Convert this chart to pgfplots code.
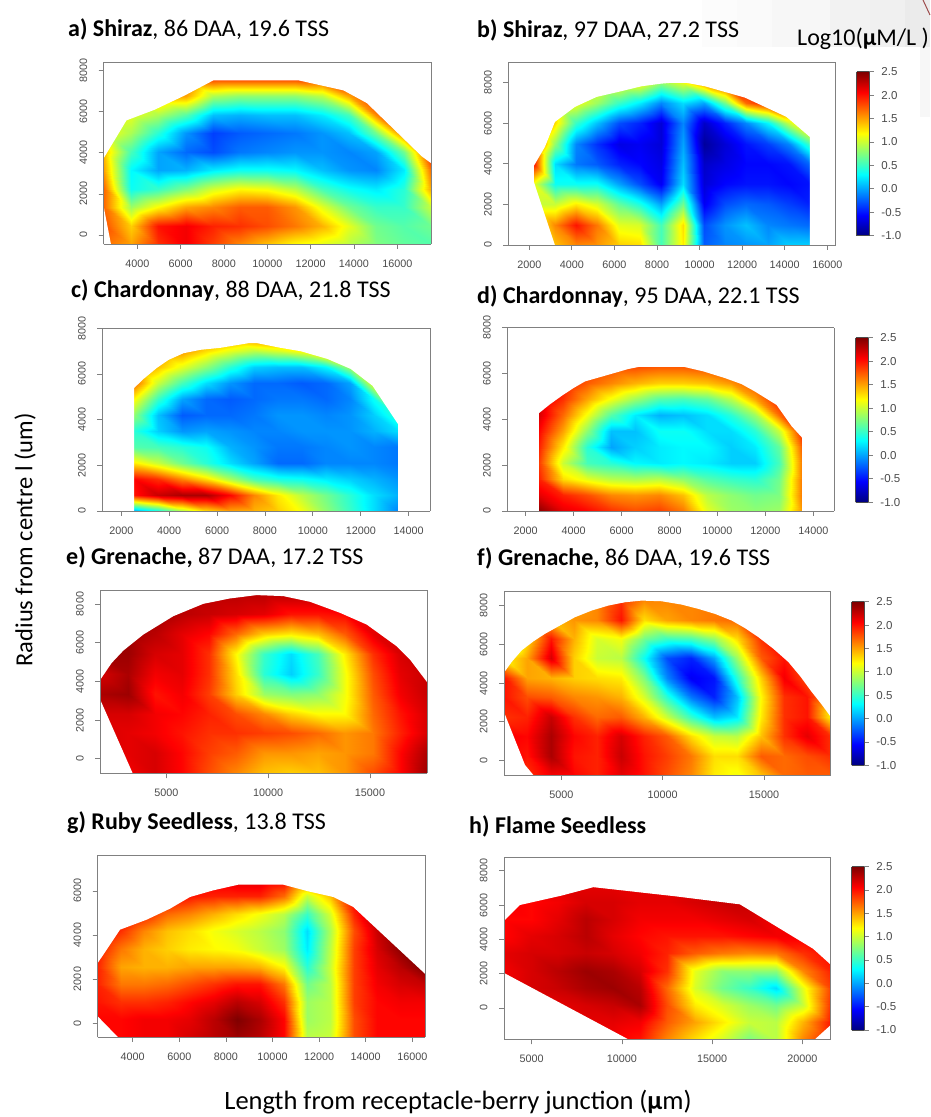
\documentclass[border=0pt]{standalone}
\usepackage{fontspec}
\usepackage{pgfplots}
\pgfplotsset{compat=1.18}
\setmainfont{Carlito}
\newfontfamily\lbs{Liberation Sans}
\definecolor{txtg}{HTML}{4A4A4A}
\definecolor{frm}{HTML}{808080}
\pgfplotsset{
 colormap={rjet}{rgb255(0cm)=(0,0,127) rgb255(1cm)=(0,0,255) rgb255(2cm)=(0,127,255) rgb255(3cm)=(0,255,255) rgb255(4cm)=(127,255,127) rgb255(5cm)=(255,255,0) rgb255(6cm)=(255,127,0) rgb255(7cm)=(255,0,0) rgb255(8cm)=(127,0,0)},
 panel/.style={
  scale only axis, anchor=south west, view={0}{90},
  colormap name=rjet, point meta min=-1, point meta max=2.5,
  zmin=-2, zmax=4, ztick=\empty, axis on top,
  xtick pos=bottom, ytick pos=left, tick align=outside,
  major tick length=5pt, scaled ticks=false,
  axis line style={frm,line width=0.9pt}, tick style={frm,line width=0.8pt},
  /pgf/number format/assume math mode=true, /pgf/number format/1000 sep={},
  xticklabel style={font=\lbs\fontsize{10.8}{12}\selectfont,text=txtg,yshift=-7pt},
  yticklabel style={font=\lbs\fontsize{10.8}{12}\selectfont,text=txtg,rotate=90,anchor=south,yshift=8pt},
 },
 cbar/.style={
  scale only axis, anchor=south west, view={0}{90},
  colormap name=rjet, point meta min=-1, point meta max=2.5,
  xmin=0,xmax=1,ymin=-1,ymax=2.5,zmin=-2,zmax=4,ztick=\empty,xtick=\empty,
  ytick={-1,-0.5,0,0.5,1,1.5,2,2.5},
  yticklabels={-1.0,-0.5,0.0,0.5,1.0,1.5,2.0,2.5},
  ytick pos=right, yticklabel pos=right, tick align=outside, major tick length=5pt,
  axis on top, axis line style={black!70,line width=0.5pt}, tick style={frm,line width=0.8pt},
  yticklabel style={font=\lbs\fontsize{11.5}{12}\selectfont,text=txtg,xshift=4pt},
 },
 mk/.style={fill=white,draw=none,no marks,forget plot},
}
% x0, dx, N, y0, dy (in thousands), values bottom row first
\newcommand\buildgrid[6]{\gdef\coords{}%
 \foreach \v [count=\k from 0] in {#6}{%
  \pgfmathtruncatemacro\ci{mod(\k,#3)}%
  \pgfmathtruncatemacro\cj{div(\k,#3)}%
  \pgfmathsetmacro\X{#1+#2*\ci}\pgfmathsetmacro\Y{#4+#5*\cj}%
  \xdef\coords{\coords (\X e3,\Y e3,\v)}%
 }}
\newcommand\heatb[2]{\addplot3[surf,shader=interp,mesh/cols=#2,point meta=z,forget plot] coordinates {#1};}
\newcommand\heat[1]{\expandafter\heatb\expandafter{\coords}{#1}}
\newcommand\colbar[3]{\begin{axis}[cbar,at={(#1pt,#2pt)},width=12.2pt,height=#3pt]
\addplot3[surf,shader=interp,mesh/cols=2,point meta=z] coordinates {(0,-1,-1) (1,-1,-1) (0,2.5,2.5) (1,2.5,2.5)};
\end{axis}}
\newcommand\ttl[3]{\node[anchor=base west,inner sep=0pt,font=\fontsize{24}{28}\selectfont] at (#1pt,#2pt) {#3};}
\begin{document}
\begin{tikzpicture}
\path[use as bounding box] (0pt,0pt) rectangle (930pt,1117pt);
% faint background tint
\fill[black!1] (702pt,1070pt) rectangle (737pt,1117pt);
\fill[black!2] (737pt,1070pt) rectangle (772pt,1117pt);
\fill[black!3] (772pt,1070pt) rectangle (830pt,1117pt);
\fill[black!5] (830pt,1070pt) rectangle (870pt,1117pt);
\fill[black!6] (870pt,1070pt) rectangle (905pt,1117pt);
\fill[black!8] (905pt,1070pt) rectangle (930pt,1117pt);
\fill[black!3] (920pt,1000pt) rectangle (930pt,1070pt);
\draw[red!45!black!70,line width=1pt] (923pt,1117pt) -- (930pt,1102pt);
% a
\buildgrid{2.45}{1.25875}{13}{-0.438}{0.9}{
1.7,1.5,1.9,2.1,1.85,1.6,1.4,1.2,1.1,.95,.75,.65,.6,
1.8,1.35,2,2.1,1.95,1.9,1.8,1.65,1.45,1.1,.7,.6,.7,
1.7,.85,1.2,1.5,1.6,1.75,1.75,1.55,1.1,.7,.5,.5,1,
1.7,.35,.5,.75,1.05,1.2,1.15,.95,.55,.35,.25,.45,1.5,
1.5,.3,0,.05,.25,.35,.35,.3,.1,-.05,-.1,.25,1.7,
1.4,.55,0,-.2,-.3,-.15,-.1,-.05,-.05,-.1,0,.7,2,
1.2,.9,.45,-.05,-.35,-.25,-.2,-.15,-.05,.1,.7,1.7,2.2,
1.2,1.1,.9,.6,.1,.05,.1,.1,.25,.55,1.6,2,2.2,
1.3,1.3,1.5,1.5,.9,.8,.8,.8,.95,1.5,2,2,2,
1.5,1.6,1.7,1.8,1.9,1.9,1.9,1.9,1.9,2,2,2,2}
\begin{axis}[panel,at={(103.7pt,873pt)},width=327.3pt,height=182pt,xmin=2450,xmax=17555,ymin=-438,ymax=8424,
 xtick={4000,6000,...,16000},ytick={0,2000,...,8000}]
\heat{13}
\addplot3[mk] coordinates {(2400,8500,3) (2400,3740,3) (2450,3740,3) (3500,5580,3) (4800,6100,3) (6200,6800,3) (7510,7530,3) (11440,7530,3) (13520,7040,3) (14600,6420,3) (17140,3820,3) (17555,3500,3) (17600,3500,3) (17600,8500,3)};
\addplot3[mk] coordinates {(2400,-500,3) (2400,1380,3) (2450,1380,3) (2783,-438,3) (2783,-500,3)};
\end{axis}
% b
\buildgrid{2.2}{1}{14}{0}{1}{
1,1.4,1.6,1.55,1.35,1.3,.55,1.25,-.25,-.1,-.05,0,.15,.15,
1.1,1.6,2,1.65,1.1,1.05,.55,1.3,-.3,-.05,.1,-.1,-.15,-.2,
1,1,1.25,1.05,.65,.4,0,.7,-.6,-.3,-.2,-.25,-.35,-.45,
1.1,.35,.35,.35,0,-.3,-.6,.2,-.7,-.55,-.5,-.5,-.55,-.5,
2,.2,-.15,-.25,-.45,-.55,-.65,.1,-.75,-.65,-.55,-.55,-.5,-.2,
2,.8,-.1,-.4,-.65,-.6,-.7,0,-.9,-.7,-.5,-.35,-.1,.55,
2,1.3,.5,.1,-.3,-.45,-.7,-.1,-.75,-.45,-.1,.3,1,1.6,
1.5,1.3,1.15,.85,.5,.25,-.1,.2,0,.7,1.7,2,2,2,
1.2,1.2,1.2,1.2,1.2,1.2,.8,1.1,1.6,2,2.2,2,2,2}
\begin{axis}[panel,at={(508.3pt,872pt)},width=327.4pt,height=183pt,xmin=1014,xmax=16395,ymin=0,ymax=9020,
 xtick={2000,4000,...,16000},ytick={0,2000,...,8000}]
\heat{14}
\addplot3[mk] coordinates {(1000,9100,3) (1000,-50,3) (3200,-50,3) (3200,0,3) (2188,3198,3) (2188,3854,3) (2735,4838,3) (3205,6068,3) (4144,6806,3) (5161,7298,3) (6179,7544,3) (7274,7823,3) (8213,7954,3) (9152,8036,3) (10248,7823,3) (12126,7265,3) (14082,6314,3) (15177,5330,3) (15177,-50,3) (16500,-50,3) (16500,9100,3)};
\end{axis}
\colbar{856.7}{881.3}{164}
% c
\buildgrid{2.55}{1}{12}{0}{0.7}{
0,.35,.9,1.3,1.5,1.45,1.35,1.15,.8,.5,.2,-.1,
2,2.25,2.35,2.35,2.05,1.6,1.25,.95,.7,.45,.2,.05,
2.05,1.9,1.6,1.3,.9,.55,.4,.35,.25,.15,.05,-.05,
1.25,1,.7,.45,.2,0,-.2,-.2,-.1,-.1,-.1,-.15,
.6,.55,.45,.35,.05,-.05,-.15,-.15,-.1,-.05,-.1,-.15,
.45,.15,-.05,0,-.05,-.1,-.1,-.05,-.05,-.05,.05,.2,
.8,.1,-.25,-.2,-.2,-.15,-.05,-.05,-.1,-.05,.15,.5,
1.2,.5,0,-.2,-.25,-.2,-.15,-.15,-.2,-.1,.35,1.5,
1.7,1,.55,.2,-.05,-.2,-.2,-.25,-.2,0,1.2,2.2,
1.7,1.4,1.1,.8,.45,.15,.1,.1,.3,.9,2,2,
1.7,1.6,1.55,1.3,1.1,.95,1.05,1.2,1.6,2,2,2,
1.8,1.8,1.8,1.8,1.7,1.8,1.8,1.9,2,2,2,2}
\begin{axis}[panel,at={(102.3pt,606pt)},width=327.7pt,height=182.7pt,xmin=1207,xmax=14890,ymin=0,ymax=8000,
 xtick={2000,4000,...,14000},ytick={0,2000,...,8000}]
\heat{12}
\addplot3[mk] coordinates {(1200,8100,3) (1200,-50,3) (2531,-50,3) (2531,5380,3) (2922,5777,3) (3481,6262,3) (3970,6615,3) (4598,6909,3) (5297,7056,3) (6135,7144,3) (7323,7350,3) (7672,7350,3) (8650,7144,3) (9488,6997,3) (10606,6659,3) (11583,6218,3) (12491,5483,3) (13050,4601,3) (13609,3719,3) (13609,-50,3) (15000,-50,3) (15000,8100,3)};
\end{axis}
% d
\buildgrid{2.55}{1}{12}{0}{0.7}{
2.45,2.15,2.05,1.9,1.8,1.85,1.65,1.1,.85,.8,.85,1.6,
2.15,1.95,1.8,1.6,1.55,1.6,1.4,.95,.8,.7,.75,1.7,
1.95,1.3,1.1,.95,.9,.95,.8,.6,.5,.45,.7,1.7,
1.85,1,.55,.45,.3,.25,.3,.25,.15,.15,.55,1.7,
1.95,1.25,.45,0,.15,.25,.3,.3,.15,.25,.65,1.8,
2.05,1.5,.8,.1,.1,.35,.35,.2,.2,.45,1,2,
2.2,1.7,1.15,.6,.25,.05,.1,.2,.45,.85,1.7,2.1,
2.2,1.9,1.5,1.15,.85,.6,.55,.65,.95,1.5,2,2.1,
2.2,2,1.75,1.6,1.45,1.35,1.35,1.4,1.55,1.8,2,2,
2,2,1.9,1.8,1.8,1.75,1.75,1.8,1.9,2,2,2}
\begin{axis}[panel,at={(507.3pt,606pt)},width=327pt,height=183.3pt,xmin=1232,xmax=14876,ymin=0,ymax=8000,
 xtick={2000,4000,...,14000},ytick={0,2000,...,8000}]
\heat{12}
\addplot3[mk] coordinates {(1200,8100,3) (1200,-50,3) (2528,-50,3) (2528,4249,3) (3015,4659,3) (3501,5025,3) (3988,5362,3) (4474,5655,3) (5308,5904,3) (6281,6197,3) (6837,6314,3) (8505,6314,3) (9409,6094,3) (10312,5801,3) (11007,5538,3) (11563,5215,3) (12467,4629,3) (13092,3706,3) (13537,3194,3) (13537,-50,3) (15000,-50,3) (15000,8100,3)};
\end{axis}
\colbar{855.7}{614.7}{164.6}
% e
\buildgrid{1.76}{1.3365}{13}{-0.755}{1.03}{
2.1,2.1,2.2,2.05,1.8,1.6,1.4,1.35,1.4,1.55,1.8,2.05,2.4,
2.15,2.15,2.2,2.05,1.85,1.75,1.55,1.55,1.5,1.55,1.65,2.05,2.35,
2.2,2.15,2.1,2,1.9,1.9,1.85,1.8,1.7,1.55,1.65,1.95,2.2,
2.2,2.2,2.1,2.05,1.95,1.8,1.6,1.35,1.2,1.2,1.7,2,2.2,
2.35,2.4,2,2.1,1.85,1.35,.85,.75,.8,1.15,1.75,2.1,2.25,
2.2,2.35,2.1,2.15,1.9,1.3,.45,.15,.5,1.15,1.8,2.15,2.25,
2.4,2.4,2.2,2.15,1.9,1.2,.5,.2,.55,1.25,1.9,2.2,2.2,
2.4,2.4,2.3,2.15,2.05,1.7,1.35,1.25,1.4,1.75,2.15,2.2,2.1,
2.4,2.4,2.4,2.3,2.25,2.2,2.15,2,2,2.05,2.1,2.1,2,
2.3,2.3,2.3,2.3,2.3,2.3,2.3,2.3,2.3,2.3,2.3,2.3,2.3}
\begin{axis}[panel,at={(100.3pt,343.7pt)},width=326.7pt,height=183.3pt,xmin=1760,xmax=17798,ymin=-755,ymax=8724,
 xtick={5000,10000,15000},ytick={0,2000,...,8000}]
\heat{13}
\addplot3[mk] coordinates {(1700,8800,3) (1700,4083,3) (1759,4083,3) (2315,4948,3) (2888,5588,3) (3870,6418,3) (5344,7370,3) (6817,8010,3) (8127,8287,3) (9436,8460,3) (10746,8408,3) (12056,8114,3) (13529,7543,3) (14838,6937,3) (16312,5813,3) (16967,5121,3) (17801,3962,3) (17850,3962,3) (17850,8800,3)};
\addplot3[mk] coordinates {(1700,-800,3) (1700,3045,3) (1760,3045,3) (3350,-755,3) (3350,-800,3)};
\end{axis}
% f
\buildgrid{2.173}{1.1512}{15}{-0.736}{1}{
2.2,1.9,2.1,2.05,1.95,2.15,2,1.8,1.6,1.25,1.15,1.4,1.7,1.75,1.75,
2.2,2,2.35,2,1.95,2.25,2,1.85,1.65,1.3,1.3,1.75,1.7,1.8,1.9,
2.1,2.05,2.35,2.05,1.95,2.2,1.95,1.75,1.3,1,.95,1.4,1.9,2.15,1.9,
1.9,1.95,2.25,1.9,1.7,1.75,1.45,1,.5,.1,.25,1.25,1.9,2,1.2,
2,1.8,1.75,1.6,1.55,1.45,1.05,.45,-.15,-.45,.1,1.2,1.9,2,1.5,
2,1.5,1.45,1.35,1.3,1.25,.75,-.1,-.6,-.5,.45,1.35,2.1,1.8,1.2,
1.2,1.5,2.2,1.35,1,.95,.35,-.3,-.45,0,.85,1.75,2,1.5,1,
.7,1.3,2,1.45,1.05,1.15,.7,.5,.55,.8,1.3,1.9,1.6,1.3,1,
.7,1.2,1.4,1.55,1.6,2,1.3,1.5,1.6,1.65,1.7,1.5,1.3,1,.8,
1,1.2,1.4,1.5,1.6,1.9,1.6,1.6,1.6,1.6,1.6,1.6,1.3,1,.8}
\begin{axis}[panel,at={(504pt,342pt)},width=326.7pt,height=183.3pt,xmin=2173,xmax=18290,ymin=-736,ymax=8700,
 xtick={5000,10000,15000},ytick={0,2000,...,8000}]
\heat{15}
\addplot3[mk] coordinates {(2100,8800,3) (2100,4530,3) (2170,4530,3) (2549,5079,3) (3042,5677,3) (3618,6139,3) (4194,6532,3) (4934,6960,3) (5674,7387,3) (6497,7729,3) (7319,7986,3) (8142,8157,3) (8964,8242,3) (9951,8208,3) (10938,8037,3) (11761,7815,3) (12584,7558,3) (13406,7216,3) (14064,6823,3) (14722,6361,3) (15462,5763,3) (16202,5079,3) (16778,4360,3) (17354,3540,3) (17847,2890,3) (18292,2257,3) (18350,2257,3) (18350,8800,3)};
\addplot3[mk] coordinates {(2100,-800,3) (2100,2510,3) (2170,2510,3) (3210,-220,3) (3620,-736,3) (3620,-800,3)};
\end{axis}
\colbar{851.7}{351.7}{163.6}
% g
\buildgrid{2.48}{1}{16}{-0.636}{0.8}{
2.05,2.05,2.1,2.1,2.2,2.3,2.4,2.3,2.05,.95,1,1.8,2.05,2.05,2.05,2.05,
2.05,2.05,2.1,2.1,2.15,2.3,2.5,2.35,2.05,.85,.95,1.8,2.05,2.05,2.05,2.05,
2,1.9,1.9,1.95,2.05,2.15,2.3,2.2,1.9,.85,.95,1.85,2.05,2.1,2.1,2.1,
1.95,1.65,1.65,1.7,1.8,1.9,2,2,1.65,.7,.95,1.85,2.1,2.2,2.25,2.25,
1.95,1.5,1.45,1.45,1.5,1.5,1.5,1.45,1.2,.45,1,1.85,2.15,2.3,2.5,2.5,
2,1.65,1.45,1.35,1.25,1.2,1.15,1,.85,.25,.95,1.85,2.2,2.45,2.5,2.5,
2.15,1.9,1.6,1.4,1.3,1.15,1.05,.95,.8,.2,.9,1.8,2.25,2.5,2.5,2.5,
2.2,2.15,1.95,1.7,1.6,1.45,1.3,1.15,.95,.5,1.05,1.95,2.35,2.4,2.4,2.4,
2.2,2.1,2.1,2.1,2,1.95,1.95,1.95,1.7,1,1.4,2.1,2.3,2.3,2.3,2.3,
2.15,2.15,2.15,2.15,2.15,2.15,2.2,2.2,2.1,1.8,1.9,2.2,2.2,2.2,2.2,2.2}
\begin{axis}[panel,at={(97.7pt,80pt)},width=327.3pt,height=182pt,xmin=2498,xmax=16545,ymin=-636,ymax=7636,
 xtick={4000,6000,...,16000},ytick={0,2000,...,6000}]
\heat{16}
\addplot3[mk] coordinates {(2400,7700,3) (2400,2727,3) (2498,2727,3) (2885,3333,3) (3457,4242,3) (4600,4697,3) (5602,5196,3) (6460,5727,3) (7461,6030,3) (8533,6287,3) (10464,6287,3) (11536,5984,3) (12609,5727,3) (13467,5272,3) (16541,2242,3) (16600,2242,3) (16600,7700,3)};
\addplot3[mk] coordinates {(2400,-700,3) (2400,300,3) (2500,300,3) (3360,-636,3) (3360,-700,3)};
\end{axis}
% h
\buildgrid{3.465}{1.509}{13}{-1.824}{1}{
2.1,2.1,2.1,2.1,2.1,2,1.6,1.3,1.05,.75,.95,1.6,2,
2.1,2.1,2.1,2.15,2.15,2.1,1.75,1.5,1.25,1,.95,1.45,2,
2.1,2.15,2.15,2.2,2.25,2.35,1.8,1.25,1.05,.85,.7,1,1.9,
2.1,2.2,2.25,2.35,2.4,2.3,1.7,1.05,.7,.5,.2,1.1,1.85,
2.1,2.2,2.3,2.4,2.35,2.2,1.9,1.1,.8,.8,.8,1.6,1.95,
2.15,2.2,2.2,2.25,2.2,2.1,1.95,1.75,1.65,1.6,1.65,1.9,2.05,
2.05,2.15,2.2,2.3,2.15,2.05,2,2,2,2.05,2.1,2.1,2.05,
2.05,2.05,2.15,2.3,2.2,2.1,2.1,2.1,2.15,2.2,2.1,2.1,2.05,
2.1,2.05,2.1,2.2,2.2,2.15,2.15,2.2,2.25,2.25,2.1,2.1,2.1,
2.15,2.15,2.15,2.15,2.15,2.15,2.15,2.15,2.15,2.15,2.15,2.15,2.15}
\begin{axis}[panel,at={(504pt,77.7pt)},width=326.7pt,height=182.3pt,xmin=3465,xmax=21574,ymin=-1824,ymax=8798,
 xtick={5000,10000,15000,20000},ytick={0,2000,...,8000}]
\heat{13}
\addplot3[mk] coordinates {(3400,8900,3) (3400,5080,3) (3467,5080,3) (4350,6000,3) (6660,6550,3) (8420,7040,3) (12940,6510,3) (16540,6040,3) (20600,3450,3) (21570,2530,3) (21650,2530,3) (21650,8900,3)};
\addplot3[mk] coordinates {(3400,-1900,3) (3400,2040,3) (3467,2040,3) (10350,-1824,3) (10350,-1900,3)};
\addplot3[mk] coordinates {(20700,-1900,3) (20700,-1824,3) (21570,-1000,3) (21650,-1000,3) (21650,-1900,3)};
\end{axis}
\colbar{851.7}{87}{163.3}
% titles
\ttl{68}{1080.3}{\textbf{a) Shiraz}, 86 DAA, 19.6 TSS}
\ttl{477}{1079.3}{\textbf{b) Shiraz}, 97 DAA, 27.2 TSS}
\ttl{797}{1071}{Log10(\textbf{µ}M/L )}
\ttl{71}{819.3}{\textbf{c) Chardonnay}, 88 DAA, 21.8 TSS}
\ttl{477}{813.7}{\textbf{d) Chardonnay}, 95 DAA, 22.1 TSS}
\ttl{66}{552}{\textbf{e) Grenache,} 87 DAA, 17.2 TSS}
\ttl{477}{551}{\textbf{f) Grenache,} 86 DAA, 19.6 TSS}
\ttl{67}{287}{\textbf{g) Ruby Seedless}, 13.8 TSS}
\ttl{469}{283}{\textbf{h) Flame Seedless}}
\node[rotate=90,inner sep=0pt,font=\fontsize{24.5}{28}\selectfont] at (25pt,577pt) {Radius from centre l (um)};
\node[inner sep=0pt,anchor=base,font=\fontsize{26.5}{30}\selectfont] at (458pt,8pt) {Length from receptacle-berry junction (\textbf{µ}m)};
\end{tikzpicture}
\end{document}
